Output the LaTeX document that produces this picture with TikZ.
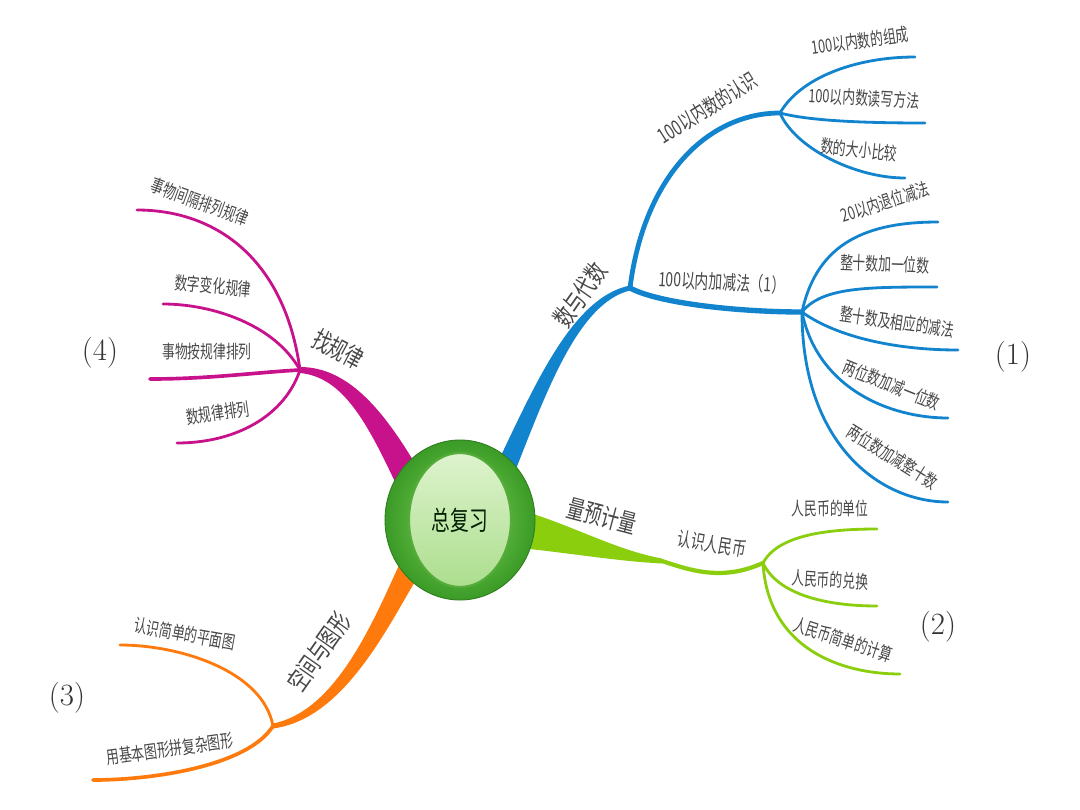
\documentclass[tikz,border=0pt]{standalone}
\usepackage{fontspec}
\newfontfamily\cjk[FakeStretch=0.7]{Noto Sans CJK SC}
\usetikzlibrary{shapes.geometric}
\definecolor{bluebr}{RGB}{18,132,206}
\definecolor{grnbr}{RGB}{138,206,14}
\definecolor{orabr}{RGB}{255,122,12}
\definecolor{magbr}{RGB}{200,18,140}
\definecolor{hubedge}{RGB}{58,155,38}
\definecolor{hubmid}{RGB}{130,210,90}
\definecolor{hubring}{RGB}{85,172,58}
\definecolor{hublite}{RGB}{222,243,205}
\definecolor{hubin}{RGB}{172,222,142}
\begin{document}
\begin{tikzpicture}[x=0.025cm, y=-0.025cm,
    txt/.style={text=black!72, inner sep=1pt},
    leaf/.style={txt, font=\cjk\fontsize{13}{13}\selectfont},
    sub/.style={txt, font=\cjk\fontsize{14}{14}\selectfont},
    topic/.style={txt, font=\cjk\fontsize{18}{18}\selectfont},
    tag/.style={text=black!80, font=\fontsize{22}{22}\selectfont},
    twig/.style={line width=2pt, line cap=round},
    limb/.style={line width=3.4pt, line cap=round}]
  \useasboundingbox (0,0) rectangle (1080,810);
  \fill[white] (0,0) rectangle (1080,810);

  \coordinate (fa) at (630,288);  \coordinate (fb) at (780,113);  \coordinate (fc) at (802,312);
  \coordinate (gm) at (662,561);  \coordinate (fg) at (763,563);
  \coordinate (fo) at (273,726);  \coordinate (fm) at (300,370);
  \coordinate (a1e) at (915,57);  \coordinate (a2e) at (925,123); \coordinate (a3e) at (905,178);
  \coordinate (b1e) at (938,222); \coordinate (b2e) at (937,287); \coordinate (b3e) at (958,350);
  \coordinate (b4e) at (948,418); \coordinate (b5e) at (948,502);
  \coordinate (c1e) at (877,529); \coordinate (c2e) at (877,606); \coordinate (c3e) at (900,674);
  \coordinate (d1e) at (120,645); \coordinate (d2e) at (93,780);
  \coordinate (e1e) at (137,210); \coordinate (e2e) at (163,304); \coordinate (e3e) at (150,379);
  \coordinate (e4e) at (177,443);

  % main branches
  \fill[bluebr] (496,466) .. controls (534,387) and (572,297) .. ([shift={(0,-2.5)}]fa)
    -- ([shift={(0,2.5)}]fa) .. controls (578,303) and (546,393) .. (514,474) -- cycle;
  \fill[grnbr] (520,510) .. controls (570,524) and (615,550) .. ([shift={(0,-2.5)}]gm)
    -- ([shift={(0,2.5)}]gm) .. controls (615,561) and (570,553) .. (520,548) -- cycle;
  \fill[orabr] (400,563) .. controls (373,622) and (336,711) .. ([shift={(0,-2.5)}]fo)
    -- ([shift={(0,2.5)}]fo) .. controls (344,719) and (387,628) .. (420,573) -- cycle;
  \fill[magbr] (420,472) .. controls (384,410) and (348,367) .. ([shift={(0,-3)}]fm)
    -- ([shift={(0,3)}]fm) .. controls (342,377) and (366,420) .. (396,484) -- cycle;

  \draw[limb, bluebr] (fa) .. controls +(14,-112) and +(-72,0) .. (fb);
  \draw[limb, bluebr, line width=3.8pt] (fa) .. controls +(30,16) and +(-60,0) .. (fc);
  \draw[limb, grnbr, line width=3pt] (gm) .. controls +(30,10) and +(-40,18) .. (fg);

  \draw[twig, bluebr] (fb) .. controls +(20,-35) and +(-60,0) .. (a1e);
  \draw[twig, bluebr] (fb) .. controls +(30,8) and +(-60,0) .. (a2e);
  \draw[twig, bluebr] (fb) .. controls +(15,35) and +(-50,0) .. (a3e);
  \draw[twig, bluebr] (fc) .. controls +(15,-70) and +(-70,0) .. (b1e);
  \draw[twig, bluebr] (fc) .. controls +(20,-25) and +(-70,0) .. (b2e);
  \draw[twig, bluebr] (fc) .. controls +(30,22) and +(-70,0) .. (b3e);
  \draw[twig, bluebr] (fc) .. controls +(15,75) and +(-60,0) .. (b4e);
  \draw[twig, bluebr] (fc) .. controls +(0,130) and +(-70,0) .. (b5e);
  \draw[twig, grnbr] (fg) .. controls +(15,-28) and +(-50,0) .. (c1e);
  \draw[twig, grnbr] (fg) .. controls +(15,32) and +(-50,0) .. (c2e);
  \draw[twig, grnbr] (fg) .. controls +(5,85) and +(-60,0) .. (c3e);
  \draw[twig, orabr] (fo) .. controls +(-10,-55) and +(60,0) .. (d1e);
  \draw[twig, orabr, line width=2.6pt] (fo) .. controls +(-25,40) and +(60,0) .. (d2e);
  \draw[twig, magbr] (fm) .. controls +(-15,-110) and +(80,0) .. (e1e);
  \draw[twig, magbr] (fm) .. controls +(-25,-45) and +(50,0) .. (e2e);
  \draw[twig, magbr, line width=2.6pt] (fm) .. controls +(-40,2) and +(60,0) .. (e3e);
  \draw[twig, magbr] (fm) .. controls +(-15,45) and +(60,0) .. (e4e);

  \node[ellipse, minimum width=3.75cm, minimum height=4cm, inner color=hubmid, outer color=hubedge,
    draw=hubedge!80!black, line width=0.6pt] (hub) at (460,520) {};
  \node[ellipse, minimum width=2.55cm, minimum height=3.35cm, top color=hublite, bottom color=hubin,
    draw=hubring, line width=1.5pt, text=black!70!green!40!black, font=\cjk\fontsize{19}{19}\selectfont]
    (core) at (hub) {总复习};

  \node[topic, rotate=55] (sydx) at (580,295) {数与代数};
  \node[sub, rotate=32, font=\cjk\fontsize{15}{15}\selectfont] (rs100) at (707,108) {100以内数的认识};
  \node[sub, rotate=-3] (jjf) at (722,282) {100以内加减法（1）};
  \node[leaf, rotate=8] (a1) at (860,41) {100以内数的组成};
  \node[leaf, rotate=-3] (a2) at (864,98) {100以内数读写方法};
  \node[leaf, rotate=-6] (a3) at (859,150) {数的大小比较};
  \node[leaf, rotate=18] (b1) at (885,202) {20以内退位减法};
  \node[leaf, rotate=-2] (b2) at (885,264) {整十数加一位数};
  \node[leaf, rotate=-8] (b3) at (897,322) {整十数及相应的减法};
  \node[leaf, rotate=-22] (b4) at (892,385) {两位数加减一位数};
  \node[leaf, rotate=-32] (b5) at (893,457) {两位数加减整十数};

  \node[topic, rotate=-15] (lyjl) at (602,516) {量预计量};
  \node[sub, rotate=-10] (rmb) at (712,544) {认识人民币};
  \node[leaf] (c1) at (830,509) {人民币的单位};
  \node[leaf, rotate=-3] (c2) at (830,580) {人民币的兑换};
  \node[leaf, rotate=-18] (c3) at (843,640) {人民币简单的计算};

  \node[topic, rotate=55] (kjtx) at (319,652) {空间与图形};
  \node[leaf, rotate=-10] (d1) at (185,634) {认识简单的平面图};
  \node[leaf, rotate=8] (d2) at (170,749) {用基本图形拼复杂图形};

  \node[topic, rotate=-28] (zgl) at (338,349) {找规律};
  \node[leaf, rotate=-20] (e1) at (200,202) {事物间隔排列规律};
  \node[leaf, rotate=-5] (e2) at (213,286) {数字变化规律};
  \node[leaf] (e3) at (207,352) {事物按规律排列};
  \node[leaf, rotate=8] (e4) at (218,413) {数规律排列};

  \node[tag] (n1) at (1013,357) {(1)};
  \node[tag] (n2) at (938,627) {(2)};
  \node[tag] (n3) at (67,698) {(3)};
  \node[tag] (n4) at (100,353) {(4)};
\end{tikzpicture}
\end{document}
